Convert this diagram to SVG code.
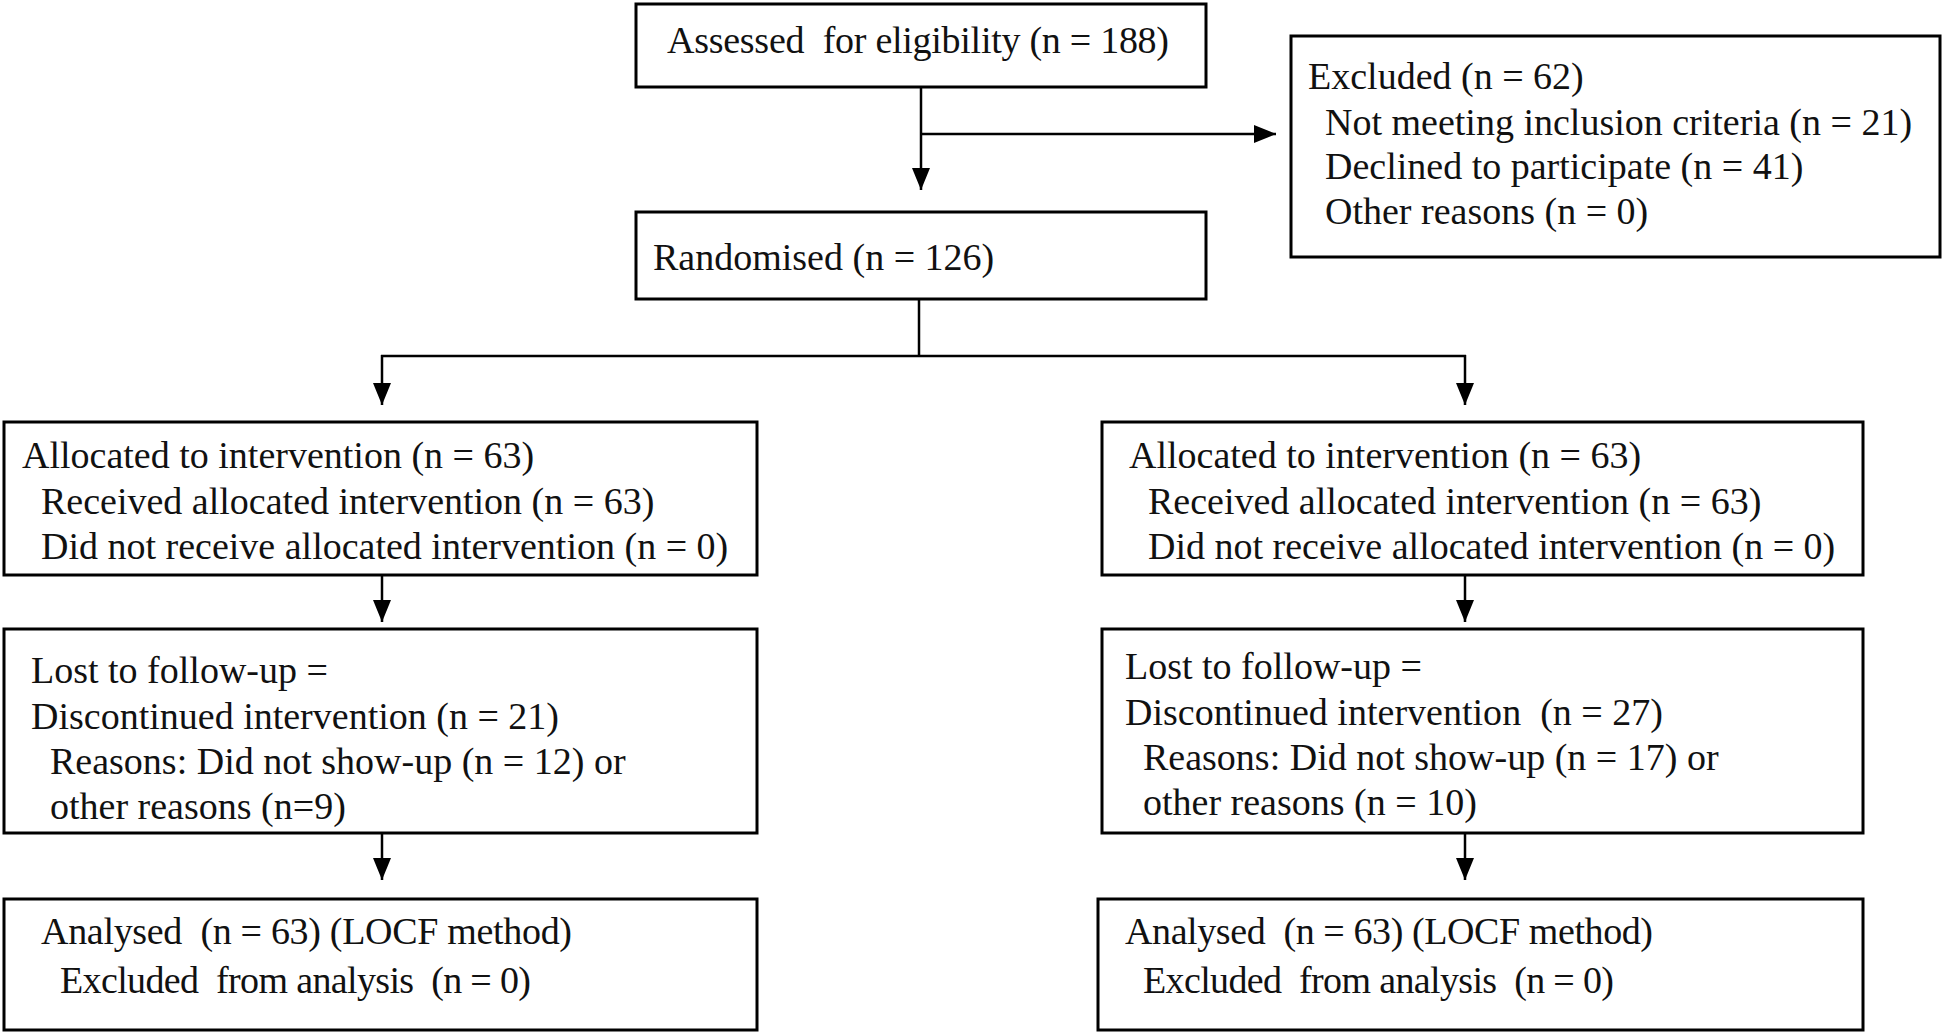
<svg xmlns="http://www.w3.org/2000/svg" width="1944" height="1035" viewBox="0 0 1944 1035">
<style>
.box{fill:#fff;stroke:#000;stroke-width:3}
.t{font-family:"Liberation Serif","Times New Roman",serif;font-size:38px;fill:#111;white-space:pre}
.c{stroke:#000;stroke-width:2.5;fill:none}
</style>
<defs>
<marker id="a" viewBox="0 0 22 18" refX="22" refY="9" markerWidth="22" markerHeight="18" markerUnits="userSpaceOnUse" orient="auto"><path d="M0,0 L22,9 L0,18 z" fill="#000"/></marker>
</defs>
<rect width="1944" height="1035" fill="#fff"/>
<g id="connectors">
<line class="c" x1="921" y1="87" x2="921" y2="190" marker-end="url(#a)"/>
<line class="c" x1="921" y1="134" x2="1276" y2="134" marker-end="url(#a)"/>
<line class="c" x1="919" y1="299" x2="919" y2="356"/>
<line class="c" x1="381" y1="356" x2="1466" y2="356"/>
<line class="c" x1="382" y1="355" x2="382" y2="405" marker-end="url(#a)"/>
<line class="c" x1="1465" y1="355" x2="1465" y2="405" marker-end="url(#a)"/>
<line class="c" x1="382" y1="575" x2="382" y2="622" marker-end="url(#a)"/>
<line class="c" x1="1465" y1="575" x2="1465" y2="622" marker-end="url(#a)"/>
<line class="c" x1="382" y1="833" x2="382" y2="880" marker-end="url(#a)"/>
<line class="c" x1="1465" y1="833" x2="1465" y2="880" marker-end="url(#a)"/>
</g>
<g id="assessed">
<rect class="box" x="636" y="4" width="570" height="83"/>
<text class="t" x="667" y="53" textLength="502">Assessed  for eligibility (n = 188)</text>
</g>
<g id="excluded">
<rect class="box" x="1291" y="36" width="649" height="221"/>
<text class="t" x="1308" y="89">Excluded (n = 62)</text>
<text class="t" x="1325" y="135">Not meeting inclusion criteria (n = 21)</text>
<text class="t" x="1325" y="179">Declined to participate (n = 41)</text>
<text class="t" x="1325" y="224">Other reasons (n = 0)</text>
</g>
<g id="randomised">
<rect class="box" x="636" y="212" width="570" height="87"/>
<text class="t" x="653" y="270">Randomised (n = 126)</text>
</g>
<g id="alloc-left">
<rect class="box" x="4" y="422" width="753" height="153"/>
<text class="t" x="22" y="468">Allocated to intervention (n = 63)</text>
<text class="t" x="41" y="514">Received allocated intervention (n = 63)</text>
<text class="t" x="41" y="559">Did not receive allocated intervention (n = 0)</text>
</g>
<g id="alloc-right">
<rect class="box" x="1102" y="422" width="761" height="153"/>
<text class="t" x="1129" y="468">Allocated to intervention (n = 63)</text>
<text class="t" x="1148" y="514">Received allocated intervention (n = 63)</text>
<text class="t" x="1148" y="559">Did not receive allocated intervention (n = 0)</text>
</g>
<g id="lost-left">
<rect class="box" x="4" y="629" width="753" height="204"/>
<text class="t" x="31" y="683">Lost to follow-up =</text>
<text class="t" x="31" y="729">Discontinued intervention (n = 21)</text>
<text class="t" x="50" y="774">Reasons: Did not show-up (n = 12) or</text>
<text class="t" x="50" y="819">other reasons (n=9)</text>
</g>
<g id="lost-right">
<rect class="box" x="1102" y="629" width="761" height="204"/>
<text class="t" x="1125" y="679">Lost to follow-up =</text>
<text class="t" x="1125" y="725" textLength="538">Discontinued intervention  (n = 27)</text>
<text class="t" x="1143" y="770">Reasons: Did not show-up (n = 17) or</text>
<text class="t" x="1143" y="815">other reasons (n = 10)</text>
</g>
<g id="analysed-left">
<rect class="box" x="4" y="899" width="753" height="131"/>
<text class="t" x="41" y="944" textLength="531">Analysed  (n = 63) (LOCF method)</text>
<text class="t" x="60" y="993" textLength="471">Excluded  from analysis  (n = 0)</text>
</g>
<g id="analysed-right">
<rect class="box" x="1098" y="899" width="765" height="131"/>
<text class="t" x="1125" y="944" textLength="528">Analysed  (n = 63) (LOCF method)</text>
<text class="t" x="1143" y="993" textLength="471">Excluded  from analysis  (n = 0)</text>
</g>
</svg>
